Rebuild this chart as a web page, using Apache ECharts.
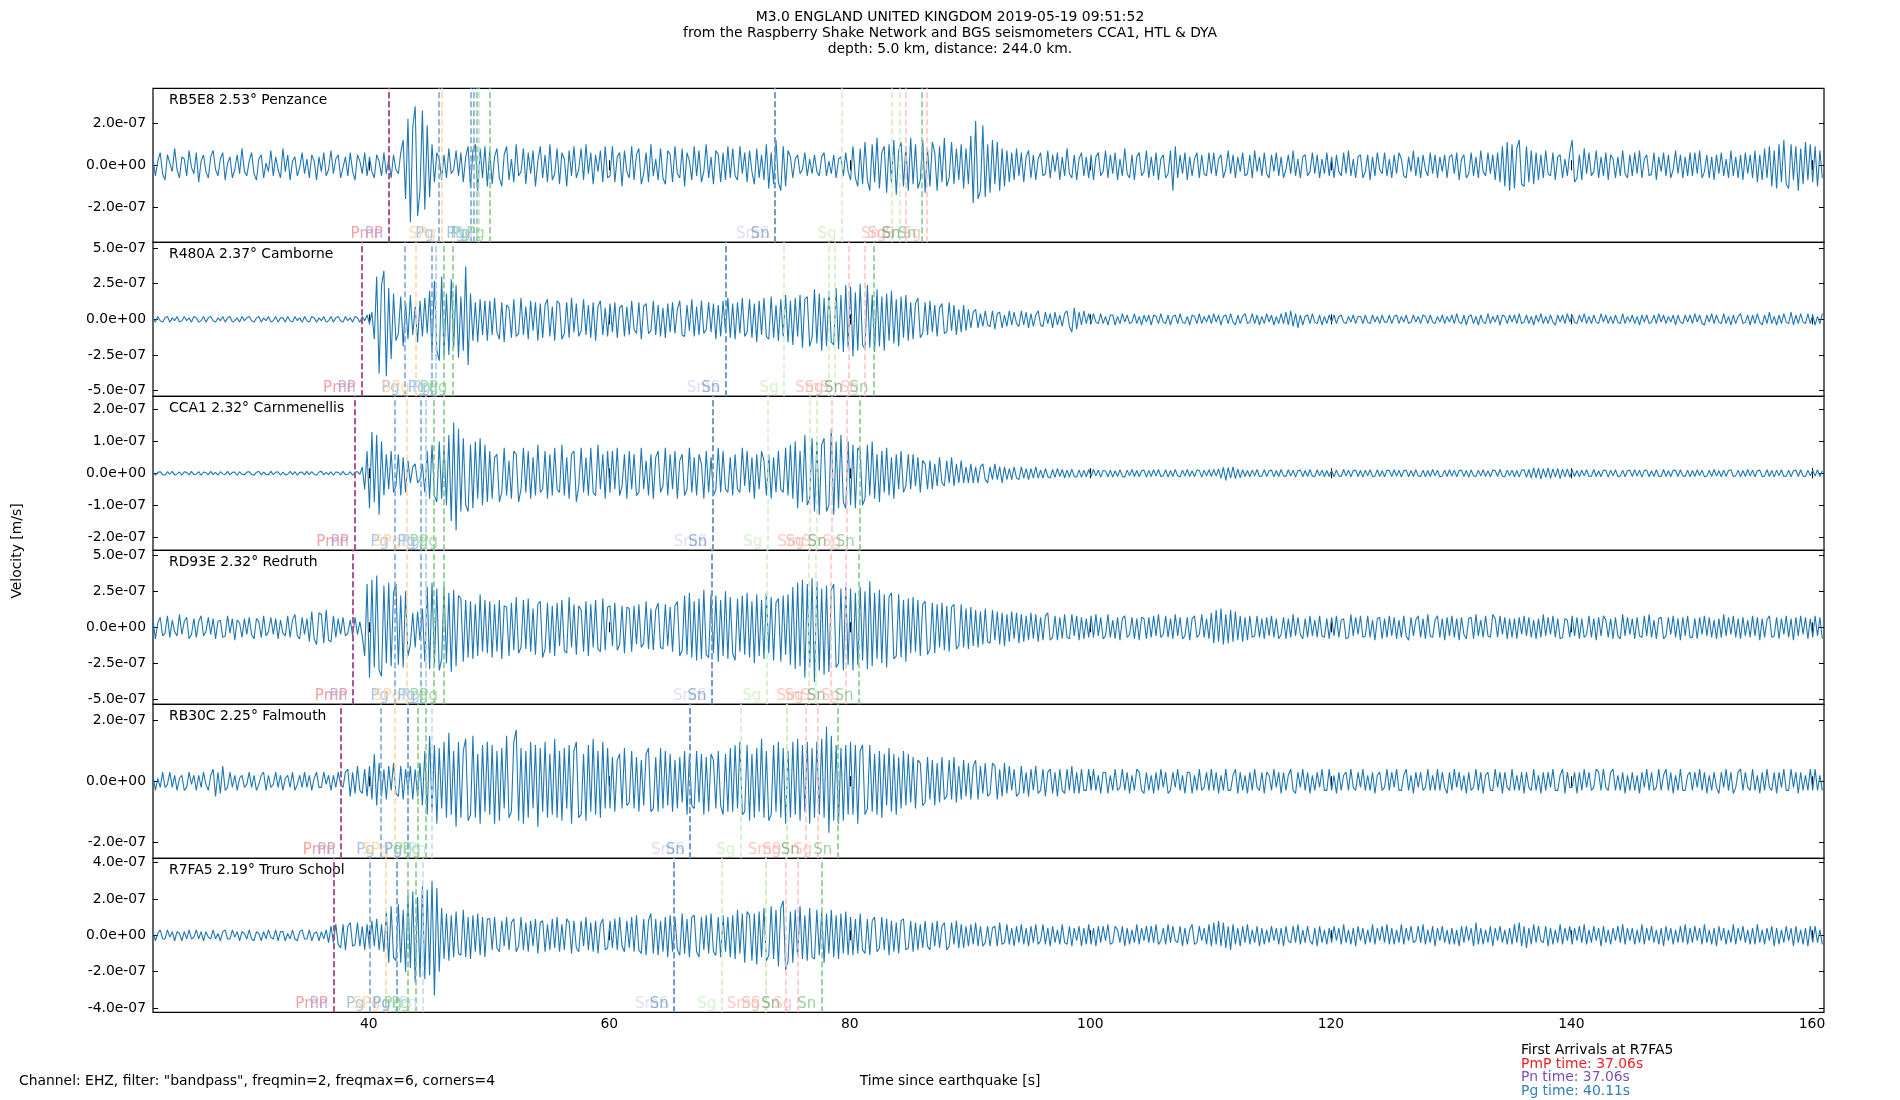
<!DOCTYPE html>
<html>
<head>
<meta charset="utf-8">
<script src="https://cdn.jsdelivr.net/npm/echarts@6/dist/echarts.min.js"></script>
<style>
  html, body { margin: 0; background: #fff; }
  #main { width: 1900px; height: 1100px; }
</style>
</head>
<body>
<div id="main"></div>
<script>
// time axis (seconds since earthquake), traces sampled every 0.2 s from T0
var T0 = 22.06, DT = 0.2;
var X_MIN = 22.06, X_MAX = 161.0;
var xTicks = [40, 60, 80, 100, 120, 140, 160];

var stationLabels = ['RB5E8 2.53° Penzance', 'R480A 2.37° Camborne', 'CCA1 2.32° Carnmenellis',
  'RD93E 2.32° Redruth', 'RB30C 2.25° Falmouth', 'R7FA5 2.19° Truro School'];

// y extent and ticks, in units of 1e-8 m/s
var yHalf = [36.5, 54, 24.2, 53.5, 25.4, 42.3];
var yTicks = [[-20, 0, 20], [-50, -25, 0, 25, 50], [-20, -10, 0, 10, 20],
  [-50, -25, 0, 25, 50], [-20, 0, 20], [-40, -20, 0, 20, 40]];

// velocity traces, 1e-8 m/s (one row ~ 5 s)
var penzance = [
  3,-5,2,6,-4,-7,5,1,-3,8,-2,-6,4,3,-5,7,-1,-4,6,-8,2,5,-3,-6,4,
  7,-2,-5,3,6,-7,1,4,-6,-2,5,-4,8,-3,-5,
  2,6,-4,-7,3,5,-6,1,-3,7,-5,4,-2,-6,8,-3,5,-7,2,4,-5,-1,6,-4,3,
  -6,5,2,-7,4,-3,6,-5,-2,7,-4,3,5,-6,-1,4,-5,6,-3,-7,5,2,-4,6,-5,
  4,-3,-6,5,2,-5,6,-4,3,-6,5,-2,-4,6,12,-16,22,-27,18,28,-24,-12,26,-21,19,
  -15,10,-8,6,3,-7,5,-6,8,-4,-2,7,-5,6,-8,4,9,-11,7,10,-12,8,-6,9,-10,
  7,-9,4,8,-6,-10,5,9,-7,3,-8,10,-5,-3,8,-9,6,-4,7,-10,2,9,-6,5,-8,
  10,-7,-4,8,-9,6,3,-10,7,-5,9,-6,-2,8,-7,10,-4,6,-9,5,-3,7,-8,9,-6,
  -5,9,-8,4,6,-10,7,-3,-6,9,-7,5,8,-9,-4,6,-8,10,-5,3,-7,8,-6,-9,7,
  5,-8,9,-4,-6,8,-10,6,2,-7,9,-5,7,-8,-3,10,-6,4,-9,7,5,-8,6,-7,9,
  -6,8,-5,-7,9,-4,6,-8,7,-3,-9,8,-6,5,-7,10,-11,6,-9,12,-8,-12,9,-10,7,
  4,-6,3,5,-4,-2,6,-5,3,-4,5,-3,-5,4,6,-5,2,-4,5,-6,3,4,-5,6,-3,
  -7,9,-6,-10,8,-9,11,-7,-12,10,-8,13,-11,6,9,-13,10,-8,12,-14,7,11,-10,9,-12,
  13,-9,10,-11,-7,12,-13,8,-10,11,6,-12,9,-8,13,-10,-6,11,-9,8,-7,10,-11,8,-9,
  14,-18,21,-16,-12,19,-15,10,-13,12,-9,11,-12,8,-10,7,-8,6,-7,8,-5,6,-8,4,7,
  -6,5,-7,3,6,-5,-4,7,-6,5,-3,6,-7,4,-5,8,-4,-6,5,-7,3,6,-5,4,-6,
  5,-7,4,6,-5,-3,7,-6,5,-4,6,-7,3,-5,8,-4,-6,5,-7,4,6,-5,-3,7,-6,
  4,-5,6,-7,3,5,-6,-4,7,-12,9,-6,5,-4,6,-7,4,-5,3,6,-6,5,-4,-5,6,
  -4,6,-5,3,5,-6,-2,7,-4,5,-6,4,-3,6,-5,-4,5,-6,7,-3,4,-5,6,-4,-6,
  5,-3,6,-5,4,-6,-2,5,-4,7,-5,3,-6,4,5,-5,-3,6,-4,5,-6,3,-4,6,-5,
  4,-6,5,-3,-5,6,-4,7,-5,3,-6,4,5,-6,-3,5,-7,4,-5,6,-2,-4,6,-5,3,
  -6,5,-4,6,3,-5,-6,4,-3,7,-5,4,-6,5,-2,-5,6,-4,5,-6,4,-3,5,-6,4,
  5,-4,6,-7,3,5,-6,-4,6,-5,4,-6,7,-3,-5,6,-4,5,-7,6,-8,9,-10,11,-12,
  10,-11,8,12,-9,-10,9,-8,7,-9,6,-7,5,-6,7,-4,-5,6,-7,4,5,-6,3,-5,6,
  12,-8,-6,5,-7,8,-4,6,-5,-3,7,-6,4,-5,6,-7,5,3,-6,4,-5,7,-4,-6,5,
  -5,6,-4,7,-6,3,5,-5,-4,6,-7,4,-3,6,-5,5,-6,-2,7,-4,5,-6,4,-5,6,
  -5,6,-4,7,-6,-3,5,-6,4,-7,5,-4,6,-5,3,-6,7,-5,4,-6,5,-7,6,-4,5,
  -6,7,-8,5,-7,8,-6,9,-10,7,-11,10,-8,12,-9,-11,10,-7,9,-12,8,-9,11,-7,10,
  -8,9,-10,7,-6
];
var camborne = [
  1,-2,2,-1,-2,1,2,-2,1,-1,2,-2,-1,2,-1,1,-2,2,1,-2,
  -1,2,-2,1,2,-1,-2,1,-1,2,-2,1,2,-2,-1,1,-2,2,-1,1,
  2,-1,-2,1,2,-2,1,-1,2,-2,-1,2,-2,1,1,-2,2,-1,-2,2,-1,1,-2,2,-1,
  -2,2,1,-2,1,-1,2,-2,-1,2,-2,1,2,-1,-2,2,-1,1,-2,2,1,-2,2,-1,3,
  -3,5,-14,30,-38,24,34,-40,22,-28,18,-15,-10,16,-19,12,-14,17,-11,9,-16,13,-12,15,-10,
  20,-24,27,-22,-29,30,-26,18,-25,28,-20,24,-27,16,-22,37,-32,18,-15,12,-16,14,-11,13,-15,
  13,-11,15,-9,-14,12,-16,10,8,-13,14,-12,-10,15,-11,9,-14,13,-8,12,-15,11,-13,10,14,
  -12,9,-15,13,11,-14,-10,12,-13,15,-9,11,-12,-8,14,-11,10,-13,12,-15,9,13,-11,8,-12,
  11,-9,12,-13,8,10,-12,9,-11,13,-7,-10,12,-14,9,11,-10,-8,13,-11,10,-12,8,-13,11,
  -9,12,-10,7,13,-11,-12,10,-8,14,-12,9,-11,13,-10,-7,12,-9,11,-14,10,-12,13,-9,15,
  -13,11,-14,12,-10,15,-12,-9,14,-13,11,-16,13,-11,15,-12,-14,16,-13,10,-15,14,-12,17,-16,
  13,-18,15,-12,17,-20,14,16,-19,-13,21,-17,18,-22,15,-19,20,-16,-18,22,-21,17,-23,24,-20,
  23,-26,19,-22,25,-18,-21,24,-20,17,-23,21,-19,16,-22,18,-15,20,-17,14,-19,16,-13,17,-15,
  12,-14,11,15,-13,-10,12,-11,13,-9,10,-12,8,11,-10,-9,12,-8,10,-11,7,-9,10,-8,7,
  -6,5,7,-6,4,-5,6,-4,-5,6,-7,4,5,-6,3,-5,6,-4,5,-3,-5,6,-4,5,-6,
  4,-5,3,6,-4,-5,5,-3,4,-6,5,-4,3,-5,4,6,-5,-9,8,-7,5,-4,6,-3,4,
  -3,4,-2,-3,4,-3,2,-4,3,3,-4,2,-3,4,-2,3,-3,-2,4,-3,2,-4,3,-2,3,
  -4,3,2,-3,4,-2,-3,3,-4,2,3,-3,4,-2,-3,2,-4,3,2,-3,4,-3,2,-2,3,
  -3,4,-2,3,-4,2,3,-3,4,-2,-4,3,-3,2,4,-3,-2,4,-3,3,-4,2,-3,4,-2,
  3,-4,2,-3,4,-3,5,-4,6,-5,4,-6,3,-4,2,3,-3,4,-2,-3,3,-4,2,-3,3,
  -2,3,-3,2,3,-2,-3,2,-2,3,-3,2,2,-3,3,-2,-3,3,-2,2,-3,3,-2,-2,3,
  -3,2,3,-3,2,-2,3,-3,-2,3,-2,2,-3,3,2,-3,3,-2,-3,2,-2,3,-3,2,-2,
  3,-3,4,-2,-3,3,-4,2,3,-3,2,-4,3,-2,-3,4,-3,2,-2,3,-4,3,2,-3,3,
  -2,3,-3,4,-3,-2,3,-3,2,-4,3,-2,4,-3,2,-3,3,-2,-4,3,-2,3,-3,4,-2,
  3,-2,-3,3,-2,4,-3,2,-3,3,-2,-3,4,-2,3,-3,2,-3,3,-2,-3,4,-3,2,-2,
  3,-3,2,-4,3,-2,3,-3,-2,3,-3,4,-2,3,-3,2,-2,3,-4,3,-2,-3,3,-2,3,
  -3,4,-2,3,-3,-4,3,-2,4,-3,3,-2,-3,4,-3,2,-4,3,-3,2,4,-3,-2,3,-4,
  3,-3,4,-2,-4,3,-3,5,-3,2,-4,3,-3,4,-2,-3,5,-4,3,-3,4,-2,-3,4,-3,
  3,-4,2,-3,4
];
var carnmenellis = [
  0.4,-0.6,0.3,0.5,-0.4,-0.6,0.5,-0.3,0.6,-0.5,-0.2,0.4,-0.6,0.5,0.3,-0.5,0.6,-0.4,-0.3,0.5,
  -0.6,0.4,0.2,-0.5,0.6,-0.4,0.3,-0.6,0.5,-0.2,-0.4,0.6,-0.5,0.3,0.4,-0.6,0.5,-0.3,-0.5,0.4,
  0.5,-0.4,-0.6,0.3,0.6,-0.5,0.4,-0.3,-0.5,0.6,-0.4,0.3,0.5,-0.6,0.4,-0.5,-0.3,0.6,-0.4,0.5,-0.6,0.3,0.4,-0.5,0.6,
  -0.4,0.5,-0.3,-0.6,0.4,0.6,-0.5,0.3,-0.4,0.5,-0.6,0.4,0.3,-0.5,0.6,-0.4,-0.3,0.5,-0.6,0.4,0.5,-0.3,2,-5,7,
  -11,13,-9,12,-13,10,-7,6,-5,7,-6,-4,6,-7,5,-6,4,-3,2,3,-3,-2,3,-6,7,
  -8,9,-7,-9,10,-8,9,-10,12,-15,16,-18,14,-12,11,-10,-12,9,-11,10,-8,11,-10,9,-9,
  7,-8,5,6,-9,-6,8,-7,4,-8,7,6,-9,-5,8,-6,7,-8,5,-7,9,-6,-5,7,-8,
  6,-7,8,-5,-6,9,-7,5,-8,6,7,-9,-4,8,-6,5,-7,8,-6,-7,9,-5,6,-8,7,
  -6,7,-5,8,-7,-4,6,-8,7,-5,6,-7,-6,8,-5,4,-7,6,-8,5,7,-6,-4,8,-7,
  6,-5,7,-8,4,6,-7,-5,8,-6,5,-7,6,3,-8,7,-6,5,-7,-5,8,-6,7,-5,-6,
  5,-7,6,-5,-6,8,-4,7,-6,5,-8,6,-5,7,4,-7,6,-8,5,-6,7,-5,-6,8,-7,
  9,-8,10,-11,7,-9,12,-10,-8,11,-12,10,-13,9,11,-12,-10,14,-13,10,-11,12,-9,-11,10,
  -10,9,-11,8,7,-10,-8,9,-7,10,-8,6,-9,7,-6,8,-7,5,-8,6,-5,7,-6,-4,6,
  -5,6,-4,5,-6,4,3,-5,4,-5,3,-4,5,-3,-4,4,-3,5,-4,3,-3,4,-3,2,-3,
  3,-3,2,-3,2,3,-2,-3,2,-2,3,-2,2,-3,2,-2,1.5,-2,2,-1.5,-2,2,-1.5,1.5,-2,
  1.5,-1.5,2,-1.5,1,-1.5,1.5,-1,-1.5,1.2,-1.3,1.5,-1,1.2,-1.4,1,-1.2,1.3,-1,-1.2,1.1,-1.3,1,-1.1,1.2,
  -1,1.2,-0.8,1,-1.2,0.9,0.7,-1.1,1,-1.2,0.8,-1,1.1,-0.9,-1.2,1,-0.8,1.2,-1,0.9,-1.1,0.8,1,-1.2,0.9,
  -1,1.1,-0.9,1.2,-1,-0.8,1.1,-1.2,0.9,-1,1.2,-0.8,-1.1,1,-0.9,1.2,-1,0.8,-1.1,1,0.9,-1.2,1,-0.8,1.1,
  -1,1.2,-0.9,1.4,-1.6,1.9,-2.2,1.8,-1.5,2,-1.7,1.3,-1.4,1.1,-1,0.9,-1.1,1,-0.8,1.2,-1,-0.9,1.1,-1,0.8,
  1,-1.1,0.9,-1,1.2,-0.8,-1,1.1,-0.9,1,-1.2,0.8,1,-1.1,0.9,-1,1.2,-0.9,-1,1.1,-0.8,1,-1.1,0.9,-1,
  0.9,-1.1,1,-0.8,-1,1.2,-0.9,1,-1.1,0.8,1,-1,0.9,-1.2,1,-0.8,1.1,-1,-0.9,1.1,-1,0.8,-1.1,1,0.9,
  -1,1.1,-0.9,1,-1.2,0.8,1,-1.1,0.9,-1,1.1,-0.8,-1,1,-1.1,0.9,-1,1.2,-0.8,1,-1.1,-0.9,1,-1,1.1,
  -0.9,1,-1.1,0.8,1,-1,0.9,-1.2,1.1,-0.8,-1,1,-0.9,1.1,-1,0.8,-1.1,1,0.9,-1,1.2,-0.9,-1.1,1,-0.8,
  1,-1.1,0.9,-1.2,1,1.1,-1.3,1.2,-1.5,1.7,-1.4,1.6,-1.8,1.5,-1.3,1.7,-1.6,1.4,-1.2,1.5,-1.7,1.3,-1.1,1.4,-1.2,
  1.1,-1,0.9,-1.2,1,-0.8,1.1,-1,-0.9,1.2,-1,0.8,-1.1,1,0.9,-1.2,1,-0.8,1.1,-1,-0.9,1,-1.1,0.8,1,
  -1,1.1,-0.9,1,-1.2,0.9,1,-1.1,0.8,-1,1.1,-0.9,-1,1.2,-1,0.8,-1.1,1,0.9,-1,1.1,-0.8,-1,1,-1.1,
  0.9,-1,1.1,-0.8,1,-1.1,-0.9,1,-1,1.2,-0.9,0.8,-1.1,1,-1,0.9,1.1,-1,-0.8,1,-1.1,0.9,-1,1.2,-0.9,
  1,-1.1,0.8,1,-1,-0.9,1.1,-1,0.9,-1.2,1,-0.8,1.1,-1,-0.9,1,-1.1,0.8,1,-1,1.1,-0.9,-1,1,-0.8,
  1,-0.9,1.1,-1,0.8
];
var redruth = [
  5,-8,3,7,-6,-4,8,-7,5,-3,-6,9,-5,4,7,-8,-5,6,-7,4,
  8,-6,-3,7,-5,6,-8,4,5,-7,-6,8,-4,6,-9,5,3,-7,6,-5,
  7,-5,-8,6,4,-7,8,-6,-3,7,-5,6,-8,5,-4,-6,8,-7,5,9,-6,-8,7,-5,6,
  -10,11,-8,-12,10,9,-11,12,-9,-10,8,-7,6,-5,7,-6,-4,5,-6,7,-5,4,-6,-20,30,
  -35,33,-28,36,-30,-34,29,-25,31,-27,24,30,-26,22,-28,25,-20,-12,10,-14,11,-9,13,-24,28,
  -29,31,-26,27,-30,-22,28,-25,24,-31,26,-27,22,20,-24,19,-21,18,-22,16,-20,23,-17,19,-18,
  18,-21,16,-17,19,-22,15,14,-20,17,-16,21,-18,-14,19,-15,20,-17,13,-19,16,18,-21,-15,17,
  -18,15,-20,17,-13,19,-16,-18,21,-14,16,-19,15,12,-17,18,-20,16,-14,19,-15,-17,20,-16,14,
  15,-13,17,-16,-12,15,-18,14,13,-17,15,-12,16,-14,-11,18,-15,13,-16,12,17,-14,-15,16,-13,
  14,-17,15,18,-20,-16,22,-19,24,-21,18,-23,20,-22,26,-19,-21,23,-18,22,-24,19,-20,25,-22,
  21,-18,-23,20,-17,22,-19,24,-21,18,-25,23,-20,19,-22,24,-18,21,-23,17,20,-24,22,-19,23,
  -26,28,-29,31,-27,33,-35,30,-28,34,-38,32,-30,27,-33,29,-31,26,30,-28,-25,27,-30,28,-26,
  27,-30,24,-26,28,-23,25,-29,32,-27,24,-22,26,-25,23,-28,21,24,-22,-20,23,-21,19,-24,20,
  -18,21,-17,19,-20,16,18,-19,-15,17,-18,16,-14,17,-16,15,-17,14,16,-15,-13,16,-14,13,-15,
  14,-13,12,-14,11,-12,13,-10,-11,12,-9,11,-12,10,-13,9,-10,11,-8,10,-11,9,-10,8,-9,
  10,-8,9,-10,7,-9,8,10,-9,-7,8,-9,7,-8,9,-7,-8,9,-6,8,-9,7,-8,6,-7,
  8,-7,9,-6,7,-8,-6,9,-7,5,-8,7,-9,6,8,-7,-5,7,-8,6,-9,7,6,-8,7,
  -7,8,-6,9,-7,-5,8,-7,6,-8,9,-6,7,-8,-6,7,-9,6,8,-7,-5,9,-7,6,-8,
  10,-11,12,-10,13,-12,9,-11,12,-10,11,-9,8,-10,7,-9,8,-7,-6,8,-7,6,-8,7,-6,
  8,-7,6,-8,-5,7,-8,6,-7,9,-6,7,-5,-8,6,-7,8,-6,5,-7,8,-6,-7,6,-8,
  7,-6,8,-7,5,6,-8,-7,9,-6,7,-5,8,-7,-6,8,-7,5,-9,6,7,-8,6,-7,8,
  -6,7,-8,5,-7,8,-6,-9,7,-6,5,8,-7,6,-8,9,-6,-7,5,8,-7,6,-9,7,-6,
  8,-7,6,-9,7,-5,-8,6,7,-8,9,-6,5,-7,8,-6,-7,9,6,-7,8,-5,7,-8,6,
  -7,6,-8,7,-5,8,-6,7,-7,5,-8,6,-7,9,-6,7,-5,8,-7,6,-8,-7,6,5,-7,
  8,-6,7,-8,6,-7,-5,8,-7,6,-9,7,-6,8,5,-7,6,-8,7,-6,-8,9,-6,7,-5,
  6,-8,7,-6,-7,8,-6,9,-7,5,-8,6,7,-8,-6,7,-5,8,-7,6,-9,7,-6,8,-7,
  -7,6,-8,7,-5,8,-6,7,-7,5,-8,6,-7,9,-6,7,-5,8,-7,6,-8,7,-6,5,-7,
  8,-6,7,-9,6,-7,5,8,-7,-6,7,-8,6,-5,8,-7,6,-9,7,-6,8,-5,7,-8,6,
  -7,8,-6,7,-8
];
var falmouth = [
  2,-3,1,-2,3,-2,-1,3,-2,2,-3,1,2,-3,-2,3,-1,2,-3,2,
  -2,3,-1,-3,2,4,-5,3,-4,5,-3,-2,3,-2,2,-3,1,2,-2,-1,
  3,-2,2,-3,-1,2,3,-3,2,-2,-1,3,-2,2,-3,1,2,-2,3,-3,-1,2,-2,3,-2,
  2,-3,1,3,-2,-2,3,-1,2,-3,2,-2,3,-1,-2,3,4,-5,3,-4,5,-3,-4,4,-5,
  5,-6,9,-8,6,-5,4,-6,5,-3,6,-4,-5,5,-6,4,-3,5,-6,4,-5,6,-8,10,-11,
  15,-10,12,-14,11,-9,13,-12,16,-11,10,-15,13,-12,10,14,-13,-11,15,-12,9,-14,12,-10,13,
  -11,12,-14,10,-13,11,-9,15,-12,-10,13,17,-13,11,-14,10,-12,13,-9,12,-15,11,-10,13,-12,
  9,-11,14,-12,10,-13,11,-9,12,-14,10,13,-12,-11,9,-13,12,-10,14,-11,10,-12,13,-9,11,
  -9,8,-10,7,9,-9,11,-8,-7,10,-9,8,-10,7,-8,9,11,-10,-9,8,-10,11,-9,10,-8,
  9,-10,7,-9,8,-7,10,-11,9,-8,-9,10,-7,9,-11,8,-10,9,7,-9,10,-8,-11,9,-10,
  11,-10,12,-9,13,-11,-10,12,-13,9,-12,11,-10,14,-12,10,-13,-11,12,-10,13,-12,11,-14,10,
  -12,13,-11,14,-13,12,-10,13,-14,11,-12,13,-11,14,-12,18,-17,15,-13,12,-14,11,-13,12,-11,
  13,-11,12,-14,10,12,-11,-9,12,-10,9,-11,10,-12,9,-8,11,-10,9,-11,8,-9,10,-8,9,
  -7,8,-9,7,6,-8,-7,8,-6,7,-8,6,-7,8,-6,-5,7,-6,8,-7,5,-6,7,-5,6,
  -6,5,7,-6,5,-4,6,-5,-4,6,5,-6,4,-5,6,-4,5,-3,4,-5,-4,5,-4,3,-5,
  4,-3,5,-4,-3,4,-5,3,4,-4,3,-5,4,-3,-4,4,-3,5,-4,3,-4,4,-3,-3,4,
  -3,4,-3,2,-4,3,3,-4,2,-3,4,-3,-2,4,-3,3,-4,2,-3,4,3,-3,-4,3,-3,
  2,-4,3,-3,4,-2,3,-4,-3,3,-2,4,-3,2,-4,3,3,-4,2,-3,4,-3,-2,3,-3,
  4,-3,3,-4,2,-3,4,-3,-3,2,4,-4,3,-3,2,-4,3,-3,4,-2,-3,3,-4,3,2,
  -3,4,-2,3,-4,3,-3,2,4,-3,-4,3,-2,4,-3,3,-4,2,-3,3,-2,4,-3,-3,4,
  -3,2,-4,3,-3,2,3,-3,4,-2,-3,3,-2,4,-3,2,-3,3,-4,2,3,-3,-2,4,-3,
  3,-2,4,-3,-3,2,4,-3,2,-4,3,-2,3,-3,-2,4,-3,2,-3,4,-3,3,-2,-4,3,
  -3,4,-2,3,-3,2,-4,3,-3,-2,4,-3,3,-4,2,3,-3,-3,4,-2,3,-4,3,-2,-3,
  4,-3,2,-3,3,-4,3,-2,-3,4,-3,2,-4,3,-3,3,-2,4,-3,-3,2,4,-4,3,-2,
  -2,3,-4,3,-3,4,-2,3,-3,-2,4,3,-3,4,-2,-3,3,4,-3,2,-3,3,-4,2,-3,
  3,-3,2,-4,3,-2,4,-3,3,-3,-2,4,-3,2,4,-3,3,-4,2,-3,4,-3,-3,2,3,
  -3,3,-2,4,-3,3,-4,2,-3,3,-2,-4,3,-2,4,-3,3,-4,-2,3,4,-3,3,-2,-3,
  4,-3,2,-4,3,-3,4,-2,-3,3,-4,3,-2,4,-3,-3,4,-2,3,-4,3,-3,2,-3,4,
  -3,4,-3,2,-3
];
var truro = [
  2,-3,1,3,-2,-2,3,-1,2,-3,2,1,-3,2,-2,3,-2,-1,3,-2,
  2,-3,2,-1,-2,3,-2,1,-3,2,3,-2,-2,3,-1,2,-3,2,1,-2,
  3,-2,-3,2,1,-3,2,-2,3,-1,-2,3,-3,2,2,-3,1,-2,3,-2,-3,2,3,-2,-2,
  3,-3,1,2,-3,2,-2,3,-4,5,-4,6,-5,-7,6,-8,5,7,-6,-5,7,-6,5,-8,6,
  -7,8,-6,9,-8,6,-9,13,-15,16,-12,-14,17,-15,14,-20,22,-18,24,-26,21,-23,27,-24,25,
  -22,30,-33,26,-20,15,-13,12,-14,11,-12,13,-10,-11,14,-12,10,-13,11,-9,12,-11,10,-12,9,
  9,-8,10,-7,-9,8,-6,10,-8,7,9,-9,-6,10,-8,7,-9,8,-6,9,-10,7,8,-9,6,
  -8,9,-7,10,-9,6,-8,9,7,-10,8,-7,-9,8,-6,10,-8,7,-9,8,-10,6,9,-8,-7,
  8,-7,9,-8,10,-6,-9,8,-7,10,-9,11,-8,-10,9,-11,8,12,-10,9,-11,8,-9,10,-12,
  11,-9,10,-8,-11,12,-10,9,-12,10,11,-9,-12,10,-8,11,-10,12,-9,-11,10,-12,11,-9,10,
  -12,11,-13,14,-10,12,-15,13,11,-14,12,-16,13,-12,15,-14,-11,16,-13,14,-17,15,19,-19,-14,
  13,-15,14,-12,16,-13,11,-14,15,-12,-13,14,-11,13,-15,12,-10,14,-12,11,-13,12,-10,13,-11,
  10,-11,9,-10,12,-8,-10,9,-11,8,10,-9,-7,10,-8,9,-11,8,-9,7,-10,8,9,-8,-7,
  8,-9,7,-8,6,-7,8,-6,-8,7,-6,8,-7,5,7,-8,-6,7,-5,8,-7,6,-7,5,-6,
  6,-5,7,-6,5,-6,-4,5,-6,4,5,-6,7,-5,-4,6,-5,4,-6,5,-4,6,-5,4,-6,
  5,-4,6,-5,-3,6,-5,4,-6,5,-4,3,-5,6,-4,-5,5,-6,4,-3,5,-6,4,-5,6,
  -5,4,-6,5,-4,5,-3,6,-5,-4,5,3,-4,5,-6,4,-5,3,-4,6,-5,4,-3,5,-4,
  5,-4,6,-5,-3,4,-5,6,-4,5,-3,-4,5,-6,4,-5,3,6,-5,-4,5,-3,4,-5,6,
  -6,7,-5,8,-6,7,-7,5,-8,6,-5,4,-6,5,-4,6,-5,3,-4,5,-6,4,-5,3,-4,
  5,-3,4,-5,4,-6,5,-3,-4,5,-4,6,-5,3,-4,5,-3,-5,4,-6,5,-4,3,-5,4,
  -4,5,-3,4,-5,6,-4,3,-5,4,-6,5,-3,4,-5,3,-4,6,-5,4,-3,5,-4,6,-5,
  4,-5,3,-4,6,-5,4,-3,5,-4,-3,5,-4,6,-5,3,-4,5,-6,4,-3,5,-4,3,-5,
  4,-5,3,-6,5,-4,5,-3,4,-6,7,-5,4,-5,3,-4,5,-6,4,-3,5,-4,3,-5,4,
  -5,6,-4,7,-6,5,-7,4,-5,6,-4,5,-3,-4,5,-6,4,-5,3,-4,6,-5,4,-3,5,
  -5,4,-3,5,-4,6,-5,3,-4,5,-3,4,-6,5,-4,3,-5,4,-3,5,-4,6,-5,4,-3,
  4,-5,3,-4,6,-5,4,-3,5,-4,3,-5,4,-6,5,-3,4,-5,3,-4,5,-4,6,-5,4,
  -4,5,-3,4,-5,6,-4,3,-5,4,-6,5,-3,4,-5,3,-4,6,-5,4,-3,5,-4,3,-5,
  4,-5,6,-4,3,-5,4,-3,5,-6,4,-5,3,-4,5,-3,4,-6,5,-4,3,-5,4,-6,5,
  -4,5,-4,3,-5
];
var traces = [penzance, camborne, carnmenellis, redruth, falmouth, truro];

// predicted phase arrivals (s), same phase order for every station
var phaseNames = ['PmP', 'Pn', 'Pg', 'SPg', 'Pg', 'Pg', 'Pg', 'Pg', 'Pn',
  'SmS', 'Sn', 'Sg', 'Sg', 'SmS', 'Sn', 'Sg', 'Sn'];
var phaseTimes = [
  [41.65, 41.65, 45.86, 46.08, 48.44, 48.77, 48.94, 50.1, 49.13, 73.79, 73.79, 79.36, 83.5, 84.18, 84.68, 86.4, 86.0],
  [39.38, 39.38, 43.03, 43.87, 45.25, 45.61, 46.22, 47.0, 45.61, 69.69, 69.69, 74.54, 78.28, 78.72, 79.89, 81.22, 82.0],
  [38.8, 38.8, 42.15, 43.17, 44.36, 44.7, 45.39, 46.22, 44.7, 68.61, 68.61, 73.18, 76.7, 77.25, 78.53, 79.75, 80.86],
  [38.69, 38.69, 42.15, 43.17, 44.36, 44.7, 45.39, 46.22, 44.7, 68.55, 68.55, 73.1, 76.6, 77.15, 78.45, 79.65, 80.76],
  [37.69, 37.69, 40.96, 42.18, 43.26, 43.26, 44.09, 44.78, 45.25, 66.73, 66.73, 70.94, 74.76, 74.76, 76.3, 77.34, 79.0],
  [37.06, 37.06, 40.11, 41.43, 42.29, 42.29, 43.23, 43.87, 44.5, 65.4, 65.4, 69.36, 73.02, 73.02, 74.68, 75.68, 77.67]
];
var firstArrivals = [['PmP', 37.06], ['Pn', 37.06], ['Pg', 40.11]];

// styles
var FONT = 'DejaVu Sans';
var phaseLineColors = ['#a8508a', '#a8508a', '#7aa7d4', '#ffd5a3', '#7aa7d4', '#7aa7d4', '#86c986', '#86c986', '#c3dbef',
  '#6f97c9', '#6f97c9', '#d3edc1', '#d3edc1', '#d3edc1', '#ffc2c2', '#ffc2c2', '#86c986'];
var phaseLabelColors = ['#f08a8a', '#b7a0d8', '#8fb6dc', '#ffd0a0', '#8fb6dc', '#8fb6dc', '#8fd18f', '#8fd18f', '#c3dbef',
  '#ddd3eb', '#74a0cf', '#cdeebb', '#e8b7a0', '#ffb9b9', '#7fa073', '#ffb9b9', '#86c686'];
var arrivalColors = ['#ee1c25', '#7d4fb5', '#2f7ec1'];

var LEFT = 153, RIGHT = 76, TOP = 88.3, PANEL_H = 154;

function sci(v) {
  if (v === 0) return '0.0e+00';
  var x = v * 1e-8;
  var e = Math.floor(Math.log10(Math.abs(x)) + 1e-9);
  var m = x / Math.pow(10, e);
  return m.toFixed(1) + 'e' + (e < 0 ? '-' : '+') + String(Math.abs(e)).padStart(2, '0');
}

var chart = echarts.init(document.getElementById('main'));

var grids = [], xAxes = [], yAxes = [], series = [], graphics = [];
var tickStyle = {show: true, inside: true, length: 5, lineStyle: {color: '#000', width: 1}};

traces.forEach(function (wave, i) {
  var top = TOP + i * PANEL_H;
  grids.push({left: LEFT, right: RIGHT, top: top, height: PANEL_H, show: true,
    borderColor: '#000', borderWidth: 1.2, backgroundColor: 'transparent'});

  var last = i === traces.length - 1;
  xAxes.push({gridIndex: i, type: 'value', min: X_MIN, max: X_MAX, position: 'bottom',
    axisLine: {show: false}, splitLine: {show: false},
    axisTick: Object.assign({customValues: xTicks}, tickStyle),
    axisLabel: {show: last, customValues: xTicks, margin: 5, color: '#000', fontSize: 13.9, fontFamily: FONT}});
  xAxes.push({gridIndex: i, type: 'value', min: X_MIN, max: X_MAX, position: 'top',
    axisLine: {show: false}, splitLine: {show: false},
    axisTick: Object.assign({customValues: xTicks}, tickStyle), axisLabel: {show: false}});

  yAxes.push({gridIndex: i, type: 'value', min: -yHalf[i], max: yHalf[i], position: 'left',
    axisLine: {show: false}, splitLine: {show: false},
    axisTick: Object.assign({customValues: yTicks[i]}, tickStyle),
    axisLabel: {customValues: yTicks[i], formatter: sci, margin: 7, color: '#000', fontSize: 13.9, fontFamily: FONT}});
  yAxes.push({gridIndex: i, type: 'value', min: -yHalf[i], max: yHalf[i], position: 'right',
    axisLine: {show: false}, splitLine: {show: false},
    axisTick: Object.assign({customValues: yTicks[i]}, tickStyle), axisLabel: {show: false}});

  var times = phaseTimes[i];
  series.push({
    type: 'line', xAxisIndex: 2 * i, yAxisIndex: 2 * i,
    data: wave.map(function (v, k) { return [T0 + k * DT, v]; }),
    showSymbol: false, symbol: 'none', clip: true, silent: true,
    lineStyle: {color: '#1f77b4', width: 1.1},
    markLine: {
      symbol: ['none', 'none'], silent: true, label: {show: false},
      data: times.map(function (t, j) {
        return {xAxis: t, lineStyle: {color: phaseLineColors[j], type: [6, 3], width: 1.6}};
      })
    }
  });

  series.push({
    type: 'scatter', xAxisIndex: 2 * i, yAxisIndex: 2 * i, symbolSize: 1, silent: true, z: 5,
    itemStyle: {color: 'rgba(0,0,0,0)'},
    label: {show: true, position: [-5, 0], align: 'right', verticalAlign: 'bottom', fontSize: 15, fontFamily: FONT},
    data: times.map(function (t, j) {
      return {value: [t, -yHalf[i]], label: {formatter: phaseNames[j], color: phaseLabelColors[j]}};
    })
  });

  graphics.push({type: 'text', x: 169, y: top + 12.5,
    style: {text: stationLabels[i], font: '13.9px ' + FONT, fill: '#000', verticalAlign: 'middle'}});
});

// title, axis names, footers
['M3.0 ENGLAND UNITED KINGDOM 2019-05-19 09:51:52',
 'from the Raspberry Shake Network and BGS seismometers CCA1, HTL & DYA',
 'depth: 5.0 km, distance: 244.0 km.'].forEach(function (line, k) {
  graphics.push({type: 'text', x: 950, y: 17 + k * 16,
    style: {text: line, font: '13.9px ' + FONT, fill: '#000', align: 'center', verticalAlign: 'middle'}});
});
graphics.push({type: 'text', x: 17, y: 551, rotation: Math.PI / 2,
  style: {text: 'Velocity [m/s]', font: '13.9px ' + FONT, fill: '#000', align: 'center', verticalAlign: 'middle'}});
graphics.push({type: 'text', x: 950, y: 1081,
  style: {text: 'Time since earthquake [s]', font: '13.9px ' + FONT, fill: '#000', align: 'center', verticalAlign: 'middle'}});
graphics.push({type: 'text', x: 19, y: 1081,
  style: {text: 'Channel: EHZ, filter: "bandpass", freqmin=2, freqmax=6, corners=4', font: '13.9px ' + FONT, fill: '#000', verticalAlign: 'middle'}});
graphics.push({type: 'text', x: 1521, y: 1050,
  style: {text: 'First Arrivals at R7FA5', font: '13.9px ' + FONT, fill: '#000', verticalAlign: 'middle'}});
firstArrivals.forEach(function (a, k) {
  graphics.push({type: 'text', x: 1521, y: 1064 + k * 13.7,
    style: {text: a[0] + ' time: ' + a[1].toFixed(2) + 's', font: '13.9px ' + FONT, fill: arrivalColors[k], verticalAlign: 'middle'}});
});

chart.setOption({
  animation: false,
  backgroundColor: '#fff',
  textStyle: {fontFamily: FONT},
  grid: grids,
  xAxis: xAxes,
  yAxis: yAxes,
  series: series,
  graphic: graphics
});
</script>
</body>
</html>
